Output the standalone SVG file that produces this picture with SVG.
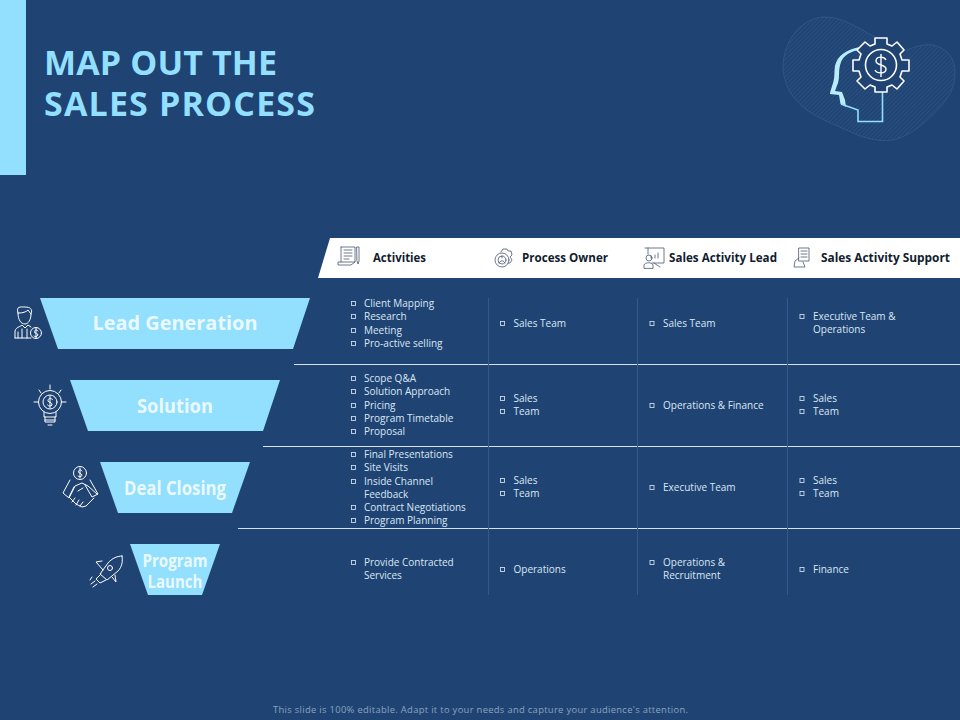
<svg xmlns="http://www.w3.org/2000/svg" width="960" height="720" viewBox="0 0 960 720">
<style>
text{font-family:"Open Sans","Liberation Sans",sans-serif}
.t{font-size:10px;fill:#dbe8f4}
.h{font-size:12.6px;font-weight:700;fill:#111c2e}
.n{font-size:20px;font-weight:700;fill:#eaf9ff;text-anchor:middle}
.p{font-size:17px;font-weight:700;fill:#eaf9ff;text-anchor:middle}
.b{fill:none;stroke:#cbdaea;stroke-width:.9}
.ic{fill:none;stroke:#fff;stroke-width:1;stroke-linejoin:round;stroke-linecap:round}
.id{fill:none;stroke:#46586f;stroke-width:.8;stroke-linejoin:round;stroke-linecap:round}
.v{stroke:#345a8c;stroke-width:1}
.r{stroke:#d5e2ee;stroke-width:1}
.f{fill:#92dffe}
</style>
<defs>
<pattern id="st" width="3" height="3" patternUnits="userSpaceOnUse" patternTransform="rotate(-45)">
<rect width="3" height="3" fill="#1f4373"/><rect width="3" height="1.2" fill="#29507f"/>
</pattern>
<rect id="bx" width="4" height="4" class="b"/>
</defs>
<rect width="960" height="720" fill="#1f4373"/>
<rect width="26" height="175" class="f"/>
<text x="44" y="75" font-size="34" font-weight="700" fill="#92dffe" textLength="233" lengthAdjust="spacing">MAP OUT THE</text>
<text x="44" y="116" font-size="34" font-weight="700" fill="#92dffe" textLength="271" lengthAdjust="spacing">SALES PROCESS</text>
<g id="logo">
<path d="M783 68C783 38 804 17 825 17C843 17 858 28 873 36C884 43 894 52 907 50C916 46 924 44 933 45C947 48 955 58 955 72C955 88 948 99 940 107C925 124 908 137 893 140C878 142 864 138 853 133C836 125 816 118 803 107C791 97 784 84 783 68Z" fill="url(#st)" stroke="#2f5688" stroke-width="1"/>
<path d="M861 47C848 49 838 56 836 66C835 72 836 78 834 83C833 87 829 91 830 94L839 95.500L841 104L858 110V121.500H882.500V92L880 91C868 91 860 80 858 70L862 50Z" fill="none"/>
<path d="M860 47C847 49 837 56 835 66C834 72 835 78 833 83C832 87 830 91 830 94L839 95L840.500 104L846 107L845 100L842 92L835 91L838 83C840 76 838 70 841 62C844 55 851 51 860 50Z" fill="#b9ecff"/>
<path d="M841 104L858 110V121.500H882.500V92" fill="none" stroke="#92dffe" stroke-width="1.6"/>
<path d="M875 38H887V44L892 46L897 42L904 50L900 54L902 60H909V71H902L900 77L904 81L897 89L892 85L887 87V92H875V87L870 85L865 89L857 81L861 77L859 71H853V60H859L861 54L857 50L865 42L870 46L875 44Z" fill="#1f4373" stroke="#fff" stroke-width="1.6" stroke-linejoin="round"/>
<circle cx="881" cy="65" r="15.500" fill="none" stroke="#fff" stroke-width="1.6"/>
<path d="M886 60C884 56 876 56 876 61C876 66 886 64 886 69C886 74 877 74 875 70M881 54V77" fill="none" stroke="#fff" stroke-width="1.4"/>
</g>
<g id="connectors">
<line class="r" x1="294" y1="364.500" x2="960" y2="364.500"/>
<line class="r" x1="263" y1="446.500" x2="960" y2="446.500"/>
<line class="r" x1="238" y1="528.500" x2="960" y2="528.500"/>
<line class="v" x1="488.500" y1="298" x2="488.500" y2="595"/>
<line class="v" x1="637.500" y1="298" x2="637.500" y2="595"/>
<line class="v" x1="787.500" y1="298" x2="787.500" y2="595"/>
</g>
<g id="header">
<path d="M330 238H960V278H318Z" fill="#fff"/>
<g class="id">
<path d="M341 247H355V262H338V265H351L355 262M341 247V262M344 250H352M344 253H352M344 256H352M344 259H349"/>
<path d="M357 247H359V261L358 264L357 261Z"/>
<circle cx="502" cy="260" r="7"/><circle cx="502" cy="260" r="4"/><path d="M499 263C500 260 504 260 505 263M502 256V258"/>
<path d="M501 252L503 249H507L508 251L511 251L512 255L510 257L512 260L510 263L508 263"/>
<path d="M645 248H664V263H652M648 248V254M655 258V255M658 258V253M651 258V256M654 263L660 267"/>
<circle cx="649" cy="258" r="3"/><path d="M644 268V265C645 262 652 262 653 265V268Z"/>
<path d="M799 248H809V261H799ZM801 251H807M801 254H807M801 257H807M799 258L795 261L794 267H805L803 262"/>
</g>
<text class="h" x="373" y="262" textLength="53" lengthAdjust="spacingAndGlyphs">Activities</text>
<text class="h" x="522" y="262" textLength="86" lengthAdjust="spacingAndGlyphs">Process Owner</text>
<text class="h" x="669" y="262" textLength="108" lengthAdjust="spacingAndGlyphs">Sales Activity Lead</text>
<text class="h" x="821" y="262" textLength="129" lengthAdjust="spacingAndGlyphs">Sales Activity Support</text>
</g>
<g id="lead-generation">
<path class="f" d="M40 298H310L293 349H58Z"/>
<text class="n" x="175" y="330" textLength="165" lengthAdjust="spacingAndGlyphs">Lead Generation</text>
<g class="ic">
<path d="M18 313C16 306 20 307 25 307C30 307 33 309 31 314C31 320 28 324 25 324C21 324 18 320 18 313ZM19 313C23 313 26 312 28 310L31 314"/>
<path d="M15 338V331C16 327 20 327 22 325L25 328L28 325L31 327M15 338H31M18 332V338M22 329V338M27 329V338"/>
<circle cx="36" cy="333" r="5.500"/><path d="M38 331C37 329 34 330 34.500 332C35 334 38 333 38 335C37 337 35 337 34 336M36 328V338"/>
</g>
</g>
<g id="solution">
<path class="f" d="M70 380H280L263 431H88Z"/>
<text class="n" x="175" y="413" textLength="76" lengthAdjust="spacingAndGlyphs">Solution</text>
<g class="ic">
<circle cx="50" cy="402" r="11.500"/><circle cx="50" cy="402" r="7"/>
<path d="M52.500 399.500C51 397.500 47.500 398.500 48 401C48.500 403 52.500 402 52 405C51 406.500 48.500 406.500 47.500 405M50 396V408"/>
<path d="M44 412V417H56V412M45 420H55M45 417V422H55V417M48 425H52M34 402H38M62 402H66M50 385V389M39 390L41 393M61 390L59 393"/>
</g>
</g>
<g id="deal-closing">
<path class="f" d="M100 462H250L232 513H118Z"/>
<text class="n" x="175" y="495" textLength="102" lengthAdjust="spacingAndGlyphs">Deal Closing</text>
<g class="ic">
<circle cx="80" cy="473" r="6.500"/><path d="M82 471C81 469 78 470 78.500 472C79 474 82 473 82 475.500C81 477 79 477 78 476M80 468V478"/>
<path d="M70 480L63 493L69 498L75 486L82 483L88 486L97 494M90 480L98 494L92 497L85 485M74 487L69 497L76 504L82 507L86 506L94 498M75 498L72 502M79 500L76 505M83 502L80 506M78 491L83 488"/>
</g>
</g>
<g id="program-launch">
<path class="f" d="M130 544H220L202 595H148Z"/>
<text class="p" x="175" y="567" textLength="65" lengthAdjust="spacingAndGlyphs">Program</text>
<text class="p" x="175" y="588" textLength="55" lengthAdjust="spacingAndGlyphs">Launch</text>
<g class="ic">
<path d="M122 556C118 556 112 558 108 563L100 574L107 580L118 571C122 567 123 561 122 556Z"/>
<circle cx="110" cy="568" r="2.500"/>
<path d="M103 570L96 562L102 561M112 577L116 582L115 575M101 574L96 579L100 583L106 580M95 581L91 584M97 584L93 587M92 577L90 580"/>
</g>
</g>
<g id="activities">
<use href="#bx" x="351.500" y="301.500"/><text class="t" x="364" y="307">Client Mapping</text>
<use href="#bx" x="351.500" y="314.500"/><text class="t" x="364" y="320">Research</text>
<use href="#bx" x="351.500" y="328.500"/><text class="t" x="364" y="334">Meeting</text>
<use href="#bx" x="351.500" y="341.500"/><text class="t" x="364" y="347">Pro-active selling</text>
<use href="#bx" x="351.500" y="376.500"/><text class="t" x="364" y="382">Scope Q&amp;A</text>
<use href="#bx" x="351.500" y="389.500"/><text class="t" x="364" y="395">Solution Approach</text>
<use href="#bx" x="351.500" y="403.500"/><text class="t" x="364" y="409">Pricing</text>
<use href="#bx" x="351.500" y="416.500"/><text class="t" x="364" y="422">Program Timetable</text>
<use href="#bx" x="351.500" y="429.500"/><text class="t" x="364" y="435">Proposal</text>
<use href="#bx" x="351.500" y="452.500"/><text class="t" x="364" y="458">Final Presentations</text>
<use href="#bx" x="351.500" y="465.500"/><text class="t" x="364" y="471">Site Visits</text>
<use href="#bx" x="351.500" y="479.500"/><text class="t" x="364" y="485">Inside Channel</text>
<text class="t" x="364" y="498">Feedback</text>
<use href="#bx" x="351.500" y="505.500"/><text class="t" x="364" y="511">Contract Negotiations</text>
<use href="#bx" x="351.500" y="518.500"/><text class="t" x="364" y="524">Program Planning</text>
<use href="#bx" x="351.500" y="560.500"/><text class="t" x="364" y="566">Provide Contracted</text>
<text class="t" x="364" y="579">Services</text>
</g>
<g id="process-owner">
<use href="#bx" x="500.500" y="321.500"/><text class="t" x="513.500" y="327">Sales Team</text>
<use href="#bx" x="500.500" y="396.500"/><text class="t" x="513.500" y="402">Sales</text>
<use href="#bx" x="500.500" y="409.500"/><text class="t" x="513.500" y="415">Team</text>
<use href="#bx" x="500.500" y="478.500"/><text class="t" x="513.500" y="484">Sales</text>
<use href="#bx" x="500.500" y="491.500"/><text class="t" x="513.500" y="497">Team</text>
<use href="#bx" x="500.500" y="567.500"/><text class="t" x="513.500" y="573">Operations</text>
</g>
<g id="sales-activity-lead">
<use href="#bx" x="650" y="321.500"/><text class="t" x="663" y="327">Sales Team</text>
<use href="#bx" x="650" y="403.500"/><text class="t" x="663" y="409">Operations &amp; Finance</text>
<use href="#bx" x="650" y="485.500"/><text class="t" x="663" y="491">Executive Team</text>
<use href="#bx" x="650" y="560.500"/><text class="t" x="663" y="566">Operations &amp;</text>
<text class="t" x="663" y="579">Recruitment</text>
</g>
<g id="sales-activity-support">
<use href="#bx" x="800" y="314.500"/><text class="t" x="813" y="320">Executive Team &amp;</text>
<text class="t" x="813" y="333">Operations</text>
<use href="#bx" x="800" y="396.500"/><text class="t" x="813" y="402">Sales</text>
<use href="#bx" x="800" y="409.500"/><text class="t" x="813" y="415">Team</text>
<use href="#bx" x="800" y="478.500"/><text class="t" x="813" y="484">Sales</text>
<use href="#bx" x="800" y="491.500"/><text class="t" x="813" y="497">Team</text>
<use href="#bx" x="800" y="567.500"/><text class="t" x="813" y="573">Finance</text>
</g>
<text x="273" y="713" font-size="9.4" fill="#8aa3be" textLength="415" lengthAdjust="spacing">This slide is 100% editable. Adapt it to your needs and capture your audience's attention.</text>
</svg>
